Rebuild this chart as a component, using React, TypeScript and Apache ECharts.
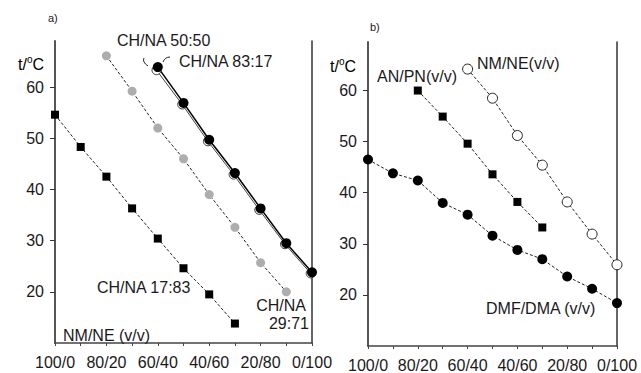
import React, { useEffect, useRef } from "react";
import * as echarts from "echarts";

// Panel a) — x = second component fraction (%), left end "100/0"
const xSq1783 = [0, 10, 20, 30, 40, 50, 60, 70];
const tSq1783 = [54.6, 48.3, 42.5, 36.3, 30.4, 24.6, 19.5, 13.8];
const x2971 = [20, 30, 40, 50, 60, 70, 80, 90];
const t2971 = [66.1, 59.2, 52.0, 46.0, 39.0, 32.6, 25.7, 20.0];
const x5050 = [39.5, 49.5, 59.5, 69.5, 79.5, 89.5, 99.5];
const t5050 = [63.3, 56.6, 49.4, 42.9, 36.0, 29.3, 23.6];
const x8317 = [40, 50, 60, 70, 80, 90, 100];
const t8317 = [63.9, 56.9, 49.7, 43.2, 36.3, 29.5, 23.8];

// Panel b)
const xDmf = [0, 10, 20, 30, 40, 50, 60, 70, 80, 90, 100];
const tDmf = [46.5, 43.8, 42.4, 38.0, 35.7, 31.6, 28.8, 27.0, 23.6, 21.2, 18.4];
const xAnpn = [20, 30, 40, 50, 60, 70];
const tAnpn = [60.0, 54.9, 49.6, 43.6, 38.2, 33.2];
const xNmne = [40, 50, 60, 70, 80, 90, 100];
const tNmne = [64.2, 58.5, 51.2, 45.4, 38.2, 31.9, 25.9];

const xLabelValues = [0, 20, 40, 60, 80, 100];
const yLabelValues = [20, 30, 40, 50, 60];

const FONT = "Liberation Sans, Arial, sans-serif";
const INK = "#1a1a1a";

const zip = (xs: number[], ys: number[]) => xs.map((x, i) => [x, ys[i]]);

export default function App() {
  const ref = useRef<HTMLDivElement>(null);
  useEffect(() => {
    if (!ref.current) return;
    const chart = echarts.init(ref.current, null, { renderer: "svg" });

    const xAxisBase = (gridIndex: number) => ({
      type: "value",
      gridIndex,
      min: 0,
      max: 100,
      interval: 10,
      axisLine: { show: true, lineStyle: { color: "#444", width: 1.5 } },
      axisTick: { show: true, length: 3, lineStyle: { color: "#444" } },
      splitLine: { show: false },
      axisLabel: {
        customValues: xLabelValues,
        formatter: (v: number) => `${100 - v}/${v}`,
        color: INK,
        fontSize: 16,
        fontFamily: FONT,
        margin: 11,
      },
    });
    const yAxisLeft = (gridIndex: number, max: number) => ({
      type: "value",
      gridIndex,
      position: "left",
      min: 10,
      max,
      interval: 10,
      axisLine: { show: true, lineStyle: { color: "#555", width: 2 } },
      axisTick: { show: true, customValues: yLabelValues, length: 5, lineStyle: { color: "#333" } },
      splitLine: { show: false },
      axisLabel: {
        customValues: yLabelValues,
        color: INK,
        fontSize: 16,
        fontFamily: FONT,
        margin: 11,
      },
    });
    const yAxisRight = (gridIndex: number, max: number) => ({
      type: "value",
      gridIndex,
      position: "right",
      min: 10,
      max,
      axisLine: { show: true, lineStyle: { color: "#333", width: 1.5 } },
      axisTick: { show: false },
      axisLabel: { show: false },
      splitLine: { show: false },
    });

    const dashed = { color: "#222", width: 1, type: [3, 2] };

    const option: any = {
      animation: false,
      backgroundColor: "#ffffff",
      grid: [
        { left: 55, right: 329, top: 41, bottom: 30 },
        { left: 368, right: 24, top: 42, bottom: 26 },
      ],
      xAxis: [xAxisBase(0), xAxisBase(1)],
      yAxis: [yAxisLeft(0, 69), yAxisRight(0, 69), yAxisLeft(1, 69.5), yAxisRight(1, 69.5)],
      series: [
        {
          type: "line",
          xAxisIndex: 0,
          yAxisIndex: 0,
          data: zip(xSq1783, tSq1783),
          symbol: "rect",
          symbolSize: 8,
          itemStyle: { color: "#000" },
          lineStyle: dashed,
        },
        {
          type: "line",
          xAxisIndex: 0,
          yAxisIndex: 0,
          data: zip(x2971, t2971),
          symbol: "circle",
          symbolSize: 9,
          itemStyle: { color: "#adadad" },
          lineStyle: dashed,
        },
        {
          type: "line",
          xAxisIndex: 0,
          yAxisIndex: 0,
          data: zip(x5050, t5050),
          symbol: "circle",
          symbolSize: 9,
          itemStyle: { color: "#fff", borderColor: "#333", borderWidth: 1 },
          lineStyle: { color: "#444", width: 1 },
        },
        {
          type: "line",
          xAxisIndex: 0,
          yAxisIndex: 0,
          data: zip(x8317, t8317),
          symbol: "circle",
          symbolSize: 10,
          itemStyle: { color: "#000" },
          lineStyle: { color: "#000", width: 1.5 },
        },
        {
          type: "line",
          xAxisIndex: 1,
          yAxisIndex: 2,
          data: zip(xAnpn, tAnpn),
          symbol: "rect",
          symbolSize: 8,
          itemStyle: { color: "#000" },
          lineStyle: dashed,
        },
        {
          type: "line",
          xAxisIndex: 1,
          yAxisIndex: 2,
          data: zip(xNmne, tNmne),
          symbol: "circle",
          symbolSize: 10,
          itemStyle: { color: "#fff", borderColor: "#222", borderWidth: 1 },
          lineStyle: dashed,
        },
        {
          type: "line",
          xAxisIndex: 1,
          yAxisIndex: 2,
          data: zip(xDmf, tDmf),
          symbol: "circle",
          symbolSize: 10,
          itemStyle: { color: "#000" },
          lineStyle: dashed,
        },
      ],
      graphic: [
        ...[
          { text: "a)", x: 48, y: 18, size: 11 },
          { text: "b)", x: 370, y: 27, size: 11 },
          { text: "CH/NA 50:50", x: 117, y: 40, size: 16 },
          { text: "CH/NA 83:17", x: 179, y: 61, size: 16 },
          { text: "CH/NA 17:83", x: 97, y: 287, size: 16 },
          { text: "NM/NE (v/v)", x: 63, y: 335, size: 16 },
          { text: "AN/PN(v/v)", x: 377, y: 76, size: 16 },
          { text: "NM/NE(v/v)", x: 477, y: 63, size: 16 },
          { text: "DMF/DMA (v/v)", x: 486, y: 308, size: 16 },
        ].map((t) => ({
          type: "text",
          z: 100,
          style: {
            text: t.text,
            x: t.x,
            y: t.y,
            fill: INK,
            font: `${t.size}px ${FONT}`,
            textAlign: "left",
            textVerticalAlign: "middle",
          },
        })),
        ...[
          { text: "CH/NA", x: 306, y: 305 },
          { text: "29:71", x: 309, y: 323 },
        ].map((t) => ({
          type: "text",
          z: 100,
          style: {
            text: t.text,
            x: t.x,
            y: t.y,
            fill: INK,
            font: `16px ${FONT}`,
            textAlign: "right",
            textVerticalAlign: "middle",
          },
        })),
        ...[
          { x: 18, y: 63 },
          { x: 330, y: 65 },
        ].map((p) => ({
          type: "text",
          z: 100,
          style: {
            text: "{m|t/}{s|o}{m|C}",
            x: p.x,
            y: p.y,
            textAlign: "left",
            textVerticalAlign: "middle",
            rich: {
              m: { fontSize: 16, fontFamily: FONT, color: INK, lineHeight: 18, verticalAlign: "bottom" },
              s: { fontSize: 10, fontFamily: FONT, color: INK, lineHeight: 18, verticalAlign: "top", padding: [0, 0, 8, 0] },
            },
          },
        })),
        {
          type: "bezierCurve",
          z: 100,
          shape: { x1: 144, y1: 58, x2: 148, y2: 66, cpx1: 142, cpy1: 62 },
          style: { stroke: "#222", lineWidth: 1, fill: "none" },
        },
        {
          type: "bezierCurve",
          z: 100,
          shape: { x1: 170, y1: 57, x2: 163, y2: 62, cpx1: 165, cpy1: 57 },
          style: { stroke: "#222", lineWidth: 1, fill: "none" },
        },
      ],
    };
    chart.setOption(option);
    return () => chart.dispose();
  }, []);
  return (
    <div
      ref={ref}
      style={{ position: "absolute", left: 0, top: 0, width: 641, height: 373, background: "#fff" }}
    />
  );
}
